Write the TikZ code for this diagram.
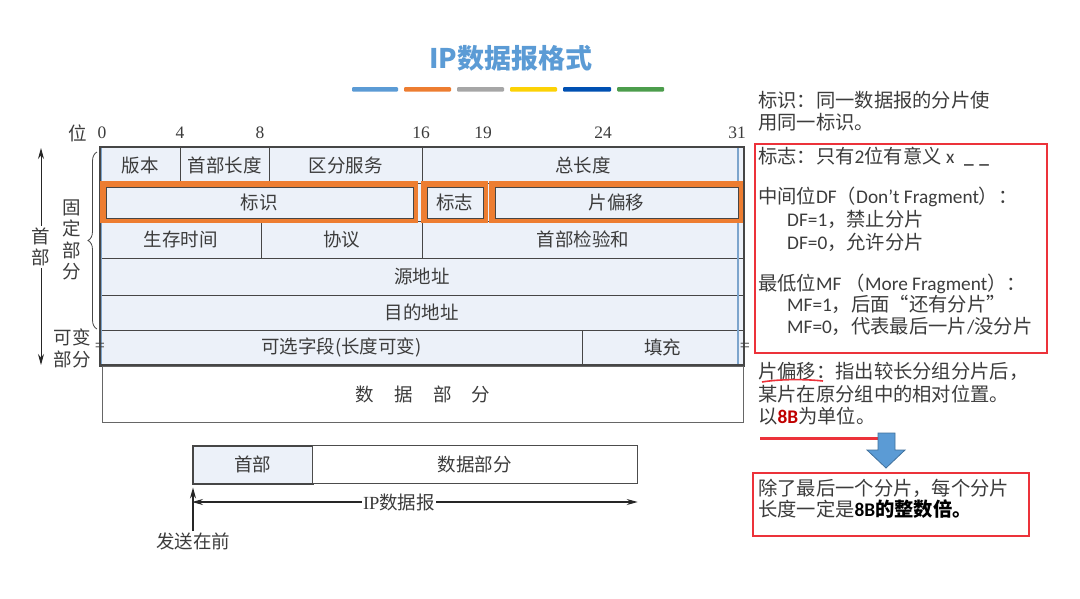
\documentclass[tikz,border=0pt]{standalone}
\usepackage{fontspec}
\setmainfont{Noto Sans CJK SC}
\newfontfamily\calfont{Carlito}
\newfontfamily\numfont{Liberation Serif}
\usetikzlibrary{arrows.meta,decorations.pathreplacing,calc}
\definecolor{tfill}{RGB}{236,241,249}
\definecolor{tline}{RGB}{70,70,70}
\definecolor{tblue}{RGB}{125,165,205}
\definecolor{orng}{HTML}{ED7D31}
\definecolor{redb}{RGB}{236,50,58}
\definecolor{ttlblue}{HTML}{5B9BD5}
\definecolor{txt}{RGB}{60,60,60}
\definecolor{dred}{RGB}{192,0,0}
\definecolor{arrblue}{HTML}{5B9BD5}
\definecolor{arrline}{HTML}{41719C}
\newcommand\lat[1]{{\calfont #1}}
\newcommand\fieldcell[6]{\node[cell, minimum width={(#4-#2)*1pt}, minimum height={(#5-#3)*1pt}] (#1) at (#2,#3) {#6};}
\newcommand\orfield[4]{%
  \draw[orng, line width=5.5pt] ({#2+2.75},183.75) rectangle ({#3-2.75},220.25);
  \node[cell, minimum width={(#3-#2-11)*1pt}, minimum height=31pt] (#1) at ({#2+5.5},186.5) {#4};}
\begin{document}
\begin{tikzpicture}[x=1pt,y=-1pt,
  cell/.style={draw=tline, line width=0.7pt, fill=tfill, inner sep=0pt, anchor=north west,
    font=\fontsize{18.5}{20}\selectfont, text=txt},
  plain/.style={inner sep=1pt, font=\fontsize{18.5}{21}\selectfont, text=txt},
  vlab/.style={inner sep=2pt, align=center, font=\fontsize{18.5}{21.5}\selectfont, text=txt},
  bit/.style={inner sep=0pt, font=\numfont\fontsize{17.5}{17.5}\selectfont, text=txt},
  eqmark/.style={inner sep=0pt, font=\numfont\fontsize{18}{18}\selectfont, text=txt},
  rtxt/.style={anchor=west, inner sep=0pt, text height=0.86em, text depth=0.12em,
    font=\fontsize{19.3}{22}\selectfont, text=txt},
  arr/.style={-{Stealth[length=11pt,width=6pt]}, line width=1pt, draw=black!85},
  redbox/.style={draw=redb, line width=2pt, inner sep=0pt, anchor=north west}]
\useasboundingbox (0,0) rectangle (1080,598);
\fill[white] (0,0) rectangle (1080,598);

% title
\node[inner sep=0pt, font=\bfseries\fontsize{27}{30}\selectfont, text=ttlblue] (title) at (511,58) {IP数据报格式};
\foreach \xa/\xb/\c in {352/398/ttlblue, 404/451/orng, 457/504/black!35, 510/557/yellow!70!orange, 563/611/blue!55!cyan!70!black, 617/664/green!45!black!70!white}
  \fill[\c, rounded corners=1pt] (\xa,87) rectangle (\xb,91.5);

% bit positions
\node[inner sep=0pt, font=\fontsize{18.5}{18.5}\selectfont, text=txt] (wei) at (78,133) {位};
\node[bit] (b0) at (102,133) {0};
\node[bit] (b4) at (180,133) {4};
\node[bit] (b8) at (260,133) {8};
\node[bit] (b16) at (421,133) {16};
\node[bit] (b19) at (483,133) {19};
\node[bit] (b24) at (603,133) {24};
\node[bit] (b31) at (737,133) {31};

% table
\node[cell, minimum width=643pt, minimum height=218pt] (tbl) at (100,147) {};
\fieldcell{ver}{100}{147}{180}{183}{版本}
\fieldcell{hlen}{180}{147}{269}{183}{首部长度}
\fieldcell{ds}{269}{147}{422}{183}{区分服务}
\fieldcell{tlen}{422}{147}{743}{183}{总长度}
\fieldcell{row2}{100}{183}{743}{221}{}
\fieldcell{ttl}{100}{221}{261}{258}{生存时间}
\fieldcell{proto}{261}{221}{422}{258}{协议}
\fieldcell{csum}{422}{221}{743}{258}{首部检验和}
\fieldcell{src}{100}{258}{743}{295}{源地址}
\fieldcell{dst}{100}{295}{743}{330}{目的地址}
\fieldcell{opt}{100}{330}{582}{365}{可选字段(长度可变)}
\fieldcell{pad}{582}{330}{743}{365}{填充}
\draw[tline, line width=1.6pt] (tbl.north west) rectangle (tbl.south east);
\draw[tblue, line width=1.2pt] (738,147.8) -- (738,364.2);
\draw[tblue, line width=1pt] (101.8,147.8) -- (101.8,364.2);
\orfield{ident}{100}{418}{标识}
\orfield{flags}{421}{488}{标志}
\orfield{foff}{489}{743}{片偏移}

% data part
\node[cell, fill=white, draw=black!60, minimum width=641pt, minimum height=56pt] (datapart) at (102,365.8)
  {数\hspace{1.1em}据\hspace{1.1em}部\hspace{1.1em}分\hspace{0.8em}};
\draw[tline, line width=1.6pt] (100,365) -- (743,365);

% equal marks
\node[eqmark] (eqL) at (100,347) {=};
\node[eqmark] (eqR) at (745,347) {=};

% left annotations
\coordinate (hTop) at (41,148);
\coordinate (hBot) at (41,365);
\node[vlab] (hdrlab) at (41,247) {首\\部};
\draw[arr] (hdrlab) -- (hTop);
\draw[arr] (hdrlab) -- (hBot);
\node[vlab] (fixed) at (72,240) {固\\定\\部\\分};
\coordinate (bTop) at (97,152);
\coordinate (bBot) at (97,329);
\draw[decorate, decoration={brace, amplitude=9pt}, line width=0.8pt, tline] (bBot) -- (bTop);
\node[vlab, font=\fontsize{18.5}{22}\selectfont] (var) at (72,348) {可变\\部分};

% bottom datagram
\node[cell, line width=1.5pt, minimum width=120pt, minimum height=38pt] (hdrbox) at (192,445) {首部};
\node[cell, fill=white, draw=black!70, minimum width=325pt, minimum height=38pt] (databox) at (312,445) {数据部分};
\node[plain] (iplab) at (399,502) {{\numfont IP}数据报};
\draw[arr, line width=1.1pt] (iplab.west) -- (iplab.west -| hdrbox.west);
\draw[arr, line width=1.1pt] (iplab.east) -- (iplab.east -| databox.east);
\node[plain] (send) at (193,541) {发送在前};
\draw[arr, line width=1.1pt] (send.north) -- ($(send.north |- hdrbox.south)+(0,3)$);

% right panel
\node[rtxt] (n1) at (758,104) {标识：同一数据报的分片使};
\node[rtxt] (n2) at (758,126) {用同一标识。};
\node[redbox, minimum width=292pt, minimum height=209pt] (rbox1) at (754,143) {};
\node[rtxt] (n3) at (758,160) {标志：只有\lat{2}位有意义 \lat{x\hspace{0.5em}\textbf{\_}\hspace{0.3em}\textbf{\_}}};
\node[rtxt] (n4) at (758,200) {中间位\lat{DF}（\lat{Don’t Fragment}）：};
\node[rtxt] (n5) at (787,223) {\lat{DF=1}，禁止分片};
\node[rtxt] (n6) at (787,246) {\lat{DF=0}，允许分片};
\node[rtxt] (n7) at (758,287) {最低位\lat{MF} （\lat{More Fragment}）：};
\node[rtxt] (n8) at (787,308) {\lat{MF=1}，后面“还有分片”};
\node[rtxt] (n9) at (787,330) {\lat{MF=0}，代表最后一片\lat{/}没分片};
\node[rtxt] (n10) at (758,375) {片偏移：指出较长分组分片后，};
\draw[redb, line width=1.6pt] (762,382) .. controls (780,379) and (805,379) .. (823,381);
\node[rtxt] (n11) at (758,398) {某片在原分组中的相对位置。};
\node[rtxt] (n12) at (758,420) {以\textcolor{dred}{\lat{\textbf{8B}}}为单位。};
\draw[redb, line width=3pt] (760,438) -- (878,438);
\filldraw[fill=arrblue, draw=arrline, line width=0.8pt]
  (878,433) -- (895,433) -- (895,450) -- (905,450) -- (886,468) -- (867,450) -- (878,450) -- cycle;
\node[redbox, minimum width=276pt, minimum height=63pt] (rbox2) at (752,472) {};
\node[rtxt] (n13) at (758,492) {除了最后一个分片，每个分片};
\node[rtxt] (n14) at (758,513) {长度一定是\textbf{\color{black}\lat{8B}的整数倍。}};
\end{tikzpicture}
\end{document}
